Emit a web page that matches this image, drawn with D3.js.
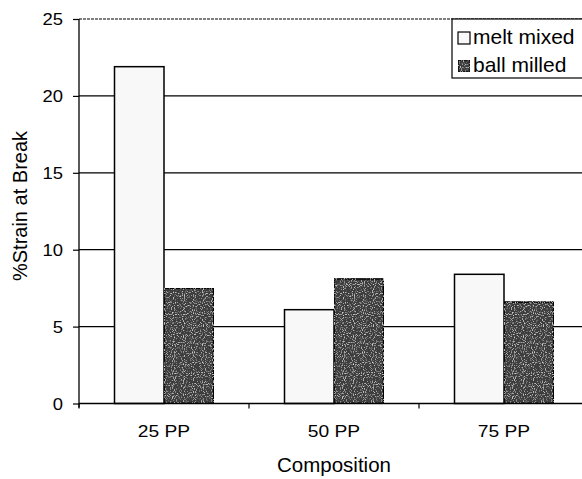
<!DOCTYPE html>
<html>
<head>
<meta charset="utf-8">
<script src="https://cdn.jsdelivr.net/npm/d3@7"></script>
<style>
  body { margin: 0; background: #fff; }
  svg { display: block; font-family: Arial, "Liberation Sans", sans-serif; }
</style>
</head>
<body>
<svg id="chart" width="582" height="479"></svg>
<script>
const categories = ["25 PP", "50 PP", "75 PP"];
const series = ["melt mixed", "ball milled"];
const meltMixed = [21.9, 6.1, 8.4];
const ballMilled = [7.5, 8.1, 6.6];
const yTicks = [0, 5, 10, 15, 20, 25];

const svg = d3.select("#chart");
const plotLeft = 79, plotRight = 589, plotTop = 19, plotBottom = 403.5;
const FONT = "Arial, 'Liberation Sans', sans-serif";

// speckle texture, just to look like the scanned print
const defs = svg.append("defs");
const f1 = defs.append("filter").attr("id", "speckleDark").attr("x", 0).attr("y", 0).attr("width", 1).attr("height", 1);
f1.append("feTurbulence").attr("type", "fractalNoise").attr("baseFrequency", 0.9).attr("numOctaves", 1).attr("seed", 3).attr("result", "n");
f1.append("feColorMatrix").attr("in", "n").attr("type", "matrix")
  .attr("values", "0 0 0 0 0.85  0 0 0 0 0.85  0 0 0 0 0.85  3 0 0 0 -1.6").attr("result", "dots");
f1.append("feComposite").attr("in", "dots").attr("in2", "SourceGraphic").attr("operator", "atop");

const y = d3.scaleLinear().domain([0, 25]).range([plotBottom, plotTop]);
const x0 = d3.scaleBand().domain(categories).range([plotLeft, plotRight]).paddingInner(0).paddingOuter(0);
const x1 = d3.scaleBand().domain(series).range([35.5, 134.5]);
const fills = { "melt mixed": "#f8f8f8", "ball milled": "#3e3e3e" };

// stretch text a little wider, the scanned labels are wide
function widen(sel, k) {
  sel.each(function() {
    const w = this.getComputedTextLength();
    d3.select(this).attr("textLength", w * k).attr("lengthAdjust", "spacingAndGlyphs");
  });
}

// gridlines
svg.append("g")
  .selectAll("line")
  .data(yTicks.filter(d => d > 0 && d < 25))
  .enter().append("line")
  .attr("x1", plotLeft).attr("x2", plotRight)
  .attr("y1", d => y(d)).attr("y2", d => y(d))
  .attr("stroke", "#000").attr("stroke-width", 1.2);

// top border dotted
svg.append("line")
  .attr("x1", plotLeft).attr("x2", plotRight)
  .attr("y1", y(25)).attr("y2", y(25))
  .attr("stroke", "#000").attr("stroke-width", 1).attr("stroke-dasharray", "3,1");

const data = categories.map((c, i) => ({ cat: c, values: [
  { key: "melt mixed", value: meltMixed[i] },
  { key: "ball milled", value: ballMilled[i] }
]}));

const groups = svg.append("g").selectAll("g")
  .data(data).enter().append("g")
  .attr("transform", d => `translate(${x0(d.cat)},0)`);

groups.selectAll("rect")
  .data(d => d.values)
  .enter().append("rect")
  .attr("x", d => x1(d.key))
  .attr("y", d => y(d.value))
  .attr("width", x1.bandwidth())
  .attr("height", d => y(0) - y(d.value))
  .attr("fill", d => fills[d.key])
  .attr("filter", d => d.key === "ball milled" ? "url(#speckleDark)" : null)
  .attr("stroke", "#000").attr("stroke-width", 1.5);

// y axis
const yAxis = svg.append("g")
  .attr("transform", `translate(${plotLeft},0)`)
  .call(d3.axisLeft(y).tickValues(yTicks).tickSize(6).tickPadding(10));
yAxis.select(".domain").attr("stroke-width", 1.3).attr("d", `M0,${plotTop}V${plotBottom + 4}`);
yAxis.selectAll(".tick line").attr("stroke-width", 1.2);
yAxis.selectAll("text").attr("font-size", 16).attr("fill", "#000").attr("font-family", FONT).attr("dy", "0.35em");
yAxis.selectAll("text").call(widen, 1.15);

// x axis
const xAxis = svg.append("g")
  .attr("transform", `translate(0,${plotBottom})`)
  .call(d3.axisBottom(x0).tickSize(0).tickPadding(0));
xAxis.select(".domain").attr("stroke-width", 1.3).attr("d", `M${plotLeft},0H${plotRight}`);
xAxis.selectAll("text").attr("font-size", 16).attr("fill", "#000").attr("font-family", FONT)
  .attr("dy", null).attr("y", 33.5);
xAxis.selectAll("text").call(widen, 1.2);
xAxis.append("g").selectAll("line")
  .data(categories)
  .enter().append("line")
  .attr("x1", d => x0(d)).attr("x2", d => x0(d))
  .attr("y1", 0).attr("y2", 5)
  .attr("stroke", "#000").attr("stroke-width", 1.2);

// axis titles
svg.append("text")
  .attr("x", (plotLeft + plotRight) / 2).attr("y", 472)
  .attr("text-anchor", "middle").attr("font-size", 20.5)
  .text("Composition");

svg.append("text")
  .attr("transform", `translate(27,206) rotate(-90)`)
  .attr("text-anchor", "middle").attr("font-size", 20)
  .text("%Strain at Break");

// legend
const legend = svg.append("g").attr("transform", "translate(452,19)");
legend.append("rect")
  .attr("x", 0).attr("y", 0).attr("width", 150).attr("height", 59)
  .attr("fill", "#fff").attr("stroke", "#000").attr("stroke-width", 1.2);
series.forEach((s, i) => {
  const row = legend.append("g").attr("transform", `translate(6,${25 + i * 28})`);
  row.append("rect")
    .attr("x", 0).attr("y", -12).attr("width", 12).attr("height", 12)
    .attr("fill", fills[s]).attr("stroke", "#000").attr("stroke-width", 1.2)
    .attr("filter", s === "ball milled" ? "url(#speckleDark)" : null);
  row.append("text")
    .attr("x", 15).attr("y", 0)
    .attr("font-size", 21)
    .text(s);
});
</script>
</body>
</html>
